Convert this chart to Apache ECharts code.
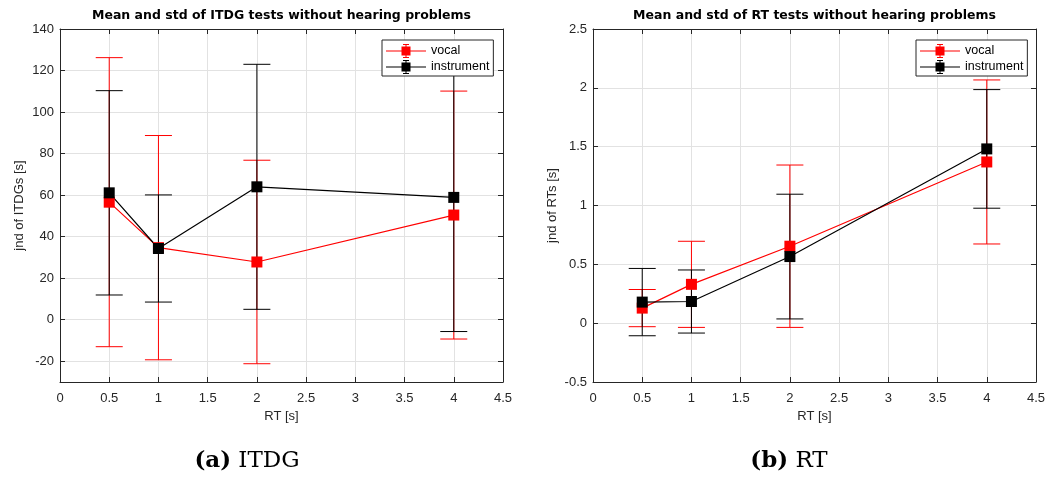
<!DOCTYPE html>
<html>
<head>
<meta charset="utf-8">
<script src="https://cdn.jsdelivr.net/npm/echarts@6/dist/echarts.min.js"></script>
<style>
  html, body { margin: 0; padding: 0; background: #fff; }
  #chart { width: 1060px; height: 477px; }
</style>
</head>
<body>
<div id="chart"></div>
<script>
// Reverberation times tested (x positions)
const rtLevels = [0.5, 1, 2, 4];

// ITDG test: mean and standard deviation of the jnd
const itdgVocalMean = [56.6, 34.7, 27.8, 50.4];
const itdgVocalStd = [69.6, 54.0, 49.0, 59.7];
const itdgInstrMean = [61.1, 34.3, 64.0, 58.9];
const itdgInstrStd = [49.2, 25.8, 59.0, 64.6];

// RT test: mean and standard deviation of the jnd
const rtVocalMean = [0.128, 0.330, 0.654, 1.370];
const rtVocalStd = [0.158, 0.366, 0.690, 0.697];
const rtInstrMean = [0.179, 0.184, 0.566, 1.481];
const rtInstrStd = [0.286, 0.268, 0.530, 0.504];

// Tick labels
const xTicks = [0, 0.5, 1, 1.5, 2, 2.5, 3, 3.5, 4, 4.5];
const itdgTicks = [-20, 0, 20, 40, 60, 80, 100, 120, 140];
const rtTicks = [-0.5, 0, 0.5, 1, 1.5, 2, 2.5];

const AXIS_COLOR = '#262626';
const GRID_COLOR = '#e2e2e2';
const RED = '#ff0000';
const BLACK = '#000000';
const FONT = 'Liberation Sans, Arial, sans-serif';
const TITLE_FONT = 'DejaVu Sans, sans-serif';
const SERIF = 'DejaVu Serif, serif';

// Legend glyph: line with a square marker and a small error bar
const errIcon = 'path://M0 6.5L40 6.5L40 7.5L0 7.5Z M15.5 2.5L24.5 2.5L24.5 11.5L15.5 11.5Z ' +
  'M19.5 0L20.5 0L20.5 14L19.5 14Z M17 0L23 0L23 1L17 1Z M17 13L23 13L23 14L17 14Z';

function points(mean) {
  return rtLevels.map((x, i) => [x, mean[i]]);
}
function bars(mean, std) {
  return rtLevels.map((x, i) => [x, mean[i] - std[i], mean[i] + std[i]]);
}

function errRender(color) {
  return function (params, api) {
    const x = api.value(0);
    const pLo = api.coord([x, api.value(1)]);
    const pHi = api.coord([x, api.value(2)]);
    const w = 13.5;
    const style = { stroke: color, lineWidth: 1, fill: null };
    return {
      type: 'group',
      children: [
        { type: 'line', shape: { x1: pLo[0], y1: pLo[1], x2: pHi[0], y2: pHi[1] }, style },
        { type: 'line', shape: { x1: pLo[0] - w, y1: pLo[1], x2: pLo[0] + w, y2: pLo[1] }, style },
        { type: 'line', shape: { x1: pHi[0] - w, y1: pHi[1], x2: pHi[0] + w, y2: pHi[1] }, style }
      ]
    };
  };
}

function xAxes(grid) {
  const base = {
    gridIndex: grid, type: 'value', min: 0, max: 4.5, interval: 0.5,
    axisLine: { show: true, onZero: false, lineStyle: { color: AXIS_COLOR, width: 1 } },
    axisTick: { show: true, inside: true, length: 5, lineStyle: { color: AXIS_COLOR } }
  };
  return [
    Object.assign({}, base, {
      position: 'bottom',
      axisLabel: { color: AXIS_COLOR, fontSize: 13, fontFamily: FONT, margin: 10 },
      splitLine: { show: true, lineStyle: { color: GRID_COLOR, width: 1 } },
      name: 'RT [s]', nameLocation: 'middle', nameGap: 25,
      nameTextStyle: { color: AXIS_COLOR, fontSize: 13, fontFamily: FONT }
    }),
    Object.assign({}, base, {
      position: 'top', axisLabel: { show: false }, splitLine: { show: false }
    })
  ];
}

function yAxes(grid, min, max, ticks, name, gap) {
  const base = {
    gridIndex: grid, type: 'value', min: min, max: max,
    axisLine: { show: true, onZero: false, lineStyle: { color: AXIS_COLOR, width: 1 } },
    axisTick: { show: true, inside: true, length: 5, customValues: ticks, lineStyle: { color: AXIS_COLOR } }
  };
  return [
    Object.assign({}, base, {
      position: 'left',
      axisLabel: { customValues: ticks, color: AXIS_COLOR, fontSize: 13, fontFamily: FONT, margin: 6 },
      splitLine: { show: true, lineStyle: { color: GRID_COLOR, width: 1 } },
      name: name, nameLocation: 'middle', nameGap: gap,
      nameTextStyle: { color: AXIS_COLOR, fontSize: 13, fontFamily: FONT }
    }),
    Object.assign({}, base, {
      position: 'right', axisLabel: { show: false }, splitLine: { show: false }
    })
  ];
}

function seriesFor(axis, vMean, vStd, iMean, iStd) {
  const common = { xAxisIndex: axis, yAxisIndex: axis };
  const line = (name, color, mean) => Object.assign({
    type: 'line', name: name, data: points(mean),
    symbol: 'rect', symbolSize: 11, showSymbol: true,
    lineStyle: { color: color, width: 1.2 },
    itemStyle: { color: color },
    emphasis: { disabled: true }, animation: false
  }, common);
  const err = (name, color, mean, std) => Object.assign({
    type: 'custom', name: name, data: bars(mean, std),
    encode: { x: 0, y: [1, 2] },
    renderItem: errRender(color), itemStyle: { color: color }, animation: false
  }, common);
  return [
    err('vocal', RED, vMean, vStd),
    line('vocal', RED, vMean),
    err('instrument', BLACK, iMean, iStd),
    line('instrument', BLACK, iMean)
  ];
}

function legendAt(x) {
  return {
    orient: 'vertical', left: x, top: 40,
    padding: [4, 4, 2, 4], itemGap: 2, itemWidth: 40, itemHeight: 14,
    backgroundColor: '#ffffff', borderColor: AXIS_COLOR, borderWidth: 1,
    textStyle: { color: '#000', fontSize: 12.5, fontFamily: FONT },
    data: [{ name: 'vocal', icon: errIcon }, { name: 'instrument', icon: errIcon }],
    selectedMode: false, z: 10
  };
}

const chart = echarts.init(document.getElementById('chart'), null, { renderer: 'canvas' });

const gridLeftA = 60, gridLeftB = 593, gridTop = 29, gridW = 443, gridH = 353;

function subCaption(x, tag, label) {
  return {
    type: 'text', x: x, y: 461,
    style: {
      text: '{b|' + tag + '} ' + label, align: 'center', verticalAlign: 'middle',
      fontFamily: SERIF, fontSize: 23, fill: '#000',
      rich: { b: { fontWeight: 'bold', fontFamily: SERIF, fontSize: 23 } }
    }
  };
}

chart.setOption({
  animation: false,
  backgroundColor: '#ffffff',
  title: [
    {
      text: 'Mean and std of ITDG tests without hearing problems',
      left: gridLeftA + gridW / 2, top: 9, textAlign: 'center', padding: 0,
      textStyle: { fontSize: 12.5, fontWeight: 'bold', color: '#000', fontFamily: TITLE_FONT }
    },
    {
      text: 'Mean and std of RT tests without hearing problems',
      left: gridLeftB + gridW / 2, top: 9, textAlign: 'center', padding: 0,
      textStyle: { fontSize: 12.5, fontWeight: 'bold', color: '#000', fontFamily: TITLE_FONT }
    }
  ],
  grid: [
    { left: gridLeftA, top: gridTop, width: gridW, height: gridH, containLabel: false },
    { left: gridLeftB, top: gridTop, width: gridW, height: gridH, containLabel: false }
  ],
  xAxis: [].concat(xAxes(0), xAxes(1)),
  yAxis: [].concat(
    yAxes(0, -30, 140, itdgTicks, 'jnd of ITDGs [s]', 34),
    yAxes(1, -0.5, 2.5, rtTicks, 'jnd of RTs [s]', 34)
  ),
  legend: [legendAt(382), legendAt(916)],
  series: [].concat(
    seriesFor(0, itdgVocalMean, itdgVocalStd, itdgInstrMean, itdgInstrStd),
    seriesFor(2, rtVocalMean, rtVocalStd, rtInstrMean, rtInstrStd)
  ),
  graphic: [
    subCaption(247, '(a)', 'ITDG'),
    subCaption(789, '(b)', 'RT')
  ]
});
</script>
</body>
</html>
